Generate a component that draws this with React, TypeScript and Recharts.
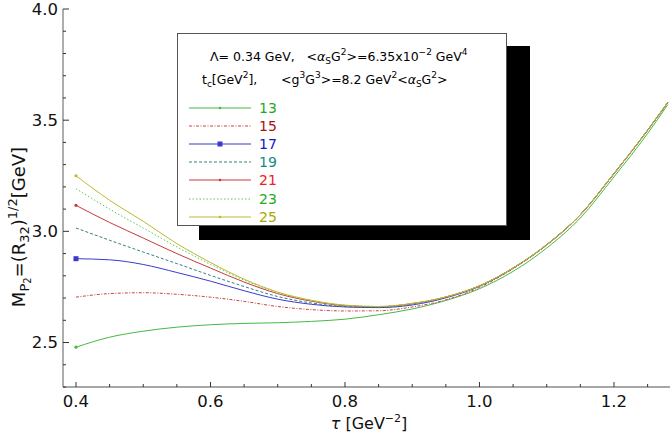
import React from 'react';
import { LineChart, Line, XAxis, YAxis, Legend } from 'recharts';

// tau [GeV^-2]
const tau = [0.4, 0.45, 0.5, 0.55, 0.6, 0.65, 0.7, 0.75, 0.8, 0.85, 0.9, 0.95, 1.0, 1.05, 1.1, 1.15, 1.2, 1.25, 1.28];
// mass curves for each t_c
const tc13 = [2.479, 2.524, 2.551, 2.569, 2.580, 2.586, 2.589, 2.595, 2.605, 2.625, 2.651, 2.689, 2.742, 2.820, 2.925, 3.060, 3.245, 3.440, 3.570];
const tc15 = [2.704, 2.720, 2.724, 2.717, 2.704, 2.685, 2.662, 2.648, 2.642, 2.643, 2.660, 2.692, 2.748, 2.832, 2.938, 3.073, 3.258, 3.453, 3.578];
const tc17 = [2.877, 2.872, 2.851, 2.815, 2.776, 2.733, 2.695, 2.672, 2.660, 2.657, 2.669, 2.701, 2.753, 2.834, 2.940, 3.075, 3.260, 3.455, 3.580];
const tc19 = [3.015, 2.960, 2.907, 2.855, 2.802, 2.752, 2.707, 2.678, 2.662, 2.659, 2.673, 2.704, 2.755, 2.835, 2.940, 3.075, 3.260, 3.455, 3.580];
const tc21 = [3.117, 3.040, 2.970, 2.900, 2.835, 2.772, 2.720, 2.686, 2.666, 2.661, 2.675, 2.705, 2.755, 2.835, 2.940, 3.075, 3.260, 3.455, 3.580];
const tc23 = [3.192, 3.100, 3.015, 2.930, 2.852, 2.781, 2.725, 2.689, 2.668, 2.662, 2.676, 2.705, 2.755, 2.835, 2.940, 3.075, 3.260, 3.455, 3.580];
const tc25 = [3.250, 3.140, 3.045, 2.945, 2.860, 2.785, 2.727, 2.690, 2.668, 2.662, 2.676, 2.705, 2.755, 2.835, 2.940, 3.075, 3.260, 3.455, 3.580];

const seriesLabels = ['13', '15', '17', '19', '21', '23', '25'];
const seriesValues = [tc13, tc15, tc17, tc19, tc21, tc23, tc25];

const xTicks = [0.4, 0.45, 0.5, 0.55, 0.6, 0.65, 0.7, 0.75, 0.8, 0.85, 0.9, 0.95, 1.0, 1.05, 1.1, 1.15, 1.2, 1.25];
const xMajor = [0.4, 0.6, 0.8, 1.0, 1.2];
const yTicks = [2.3, 2.4, 2.5, 2.6, 2.7, 2.8, 2.9, 3.0, 3.1, 3.2, 3.3, 3.4, 3.5, 3.6, 3.7, 3.8, 3.9, 4.0];
const yMajor = [2.5, 3.0, 3.5, 4.0];

const STYLES = [
  { stroke: '#46b946', dash: undefined as string | undefined, label: '#22aa22', marker: 'dot' },
  { stroke: '#c84444', dash: '3 1.5 1 1.5', label: '#aa1111', marker: '' },
  { stroke: '#3a3acc', dash: undefined, label: '#1414cc', marker: 'square' },
  { stroke: '#358080', dash: '3 2', label: '#138a8a', marker: '' },
  { stroke: '#c83a3a', dash: undefined, label: '#ee2222', marker: 'dot' },
  { stroke: '#55cc55', dash: '1.5 2', label: '#22aa22', marker: '' },
  { stroke: '#bcbc30', dash: undefined, label: '#a8a800', marker: 'dot' },
];

const keys = seriesLabels.map((l) => 't' + l);
const data = tau.map((t, i) => {
  const row: Record<string, number> = { tau: t };
  keys.forEach((k, j) => {
    row[k] = seriesValues[j][i];
  });
  return row;
});

const FONT = 'DejaVu Sans';
const AXIS = '#8a8a8a';

const isIn = (v: number, arr: number[]) => arr.some((a) => Math.abs(a - v) < 1e-6);

const XTickBottom = (props: any) => {
  const { x, y, payload } = props;
  const major = isIn(payload.value, xMajor);
  return (
    <g>
      <line x1={x} x2={x} y1={y} y2={y - (major ? 5 : 3)} stroke="#333" strokeWidth={1} />
      {major && (
        <text x={x} y={y + 20} textAnchor="middle" fontSize={16.5} fontFamily={FONT} fill="#111">
          {payload.value.toFixed(1)}
        </text>
      )}
    </g>
  );
};

const XTickTop = (props: any) => {
  const { x, y, payload } = props;
  const major = isIn(payload.value, xMajor);
  return <line x1={x} x2={x} y1={y} y2={y + (major ? 5 : 3)} stroke="#333" strokeWidth={1} />;
};

const YTick = (props: any) => {
  const { x, y, payload } = props;
  const major = isIn(payload.value, yMajor);
  return (
    <g>
      <line x1={x} x2={x + (major ? 6 : 3)} y1={y} y2={y} stroke="#333" strokeWidth={1} />
      {major && (
        <text x={x - 5} y={y} dy="0.36em" textAnchor="end" fontSize={16.5} fontFamily={FONT} fill="#111">
          {payload.value.toFixed(1)}
        </text>
      )}
    </g>
  );
};

const XLabel = () => (
  <text x={369} y={429} textAnchor="middle" fontSize={16} fontFamily={FONT} fill="#111">
    <tspan fontStyle="italic">τ</tspan>
    <tspan> [GeV</tspan>
    <tspan dy={-7} fontSize={11}>−2</tspan>
    <tspan dy={7}>]</tspan>
  </text>
);

const YLabel = () => (
  <text
    transform="translate(25,227) rotate(-90)"
    x={0}
    y={0}
    textAnchor="middle"
    fontSize={18}
    fontFamily={FONT}
    fill="#111"
  >
    <tspan>M</tspan>
    <tspan dy={4} fontSize={13}>P</tspan>
    <tspan dy={2} fontSize={10}>2</tspan>
    <tspan dy={-6}>=(R</tspan>
    <tspan dy={4} fontSize={13}>32</tspan>
    <tspan dy={-4}>)</tspan>
    <tspan dy={-8} fontSize={13}>1/2</tspan>
    <tspan dy={8}>[GeV]</tspan>
  </text>
);

const makeDot = (kind: string, color: string) => (props: any) => {
  const { cx, cy, index } = props;
  if (index !== 0 || !kind || cx == null) return <g key={`d${index}`} />;
  if (kind === 'square')
    return <rect key={`d${index}`} x={cx - 2.5} y={cy - 2.5} width={5} height={5} fill={color} />;
  return <circle key={`d${index}`} cx={cx} cy={cy} r={1.6} fill={color} />;
};

const Sup = ({ children }: { children: React.ReactNode }) => (
  <span style={{ fontSize: 9, position: 'relative', top: -6 }}>{children}</span>
);
const Sub = ({ children }: { children: React.ReactNode }) => (
  <span style={{ fontSize: 9, position: 'relative', top: 3 }}>{children}</span>
);

const LegendBox = () => (
  <div style={{ position: 'relative', width: 353, height: 207, fontFamily: FONT, color: '#000' }}>
    <div style={{ position: 'absolute', left: 22, top: 13, width: 331, height: 194, background: '#000' }} />
    <div
      style={{
        position: 'absolute',
        left: 0,
        top: 0,
        width: 328,
        height: 191,
        background: '#fff',
        border: '1.5px solid #555',
      }}
    >
      <div style={{ position: 'absolute', left: 32, top: 15, fontSize: 12.5, whiteSpace: 'pre', lineHeight: '16px' }}>
        Λ= 0.34 GeV,   &lt;<i>α</i>
        <Sub>S</Sub>G<Sup>2</Sup>&gt;=6.35x10<Sup>−2</Sup> GeV<Sup>4</Sup>
      </div>
      <div style={{ position: 'absolute', left: 24, top: 38, fontSize: 12.5, whiteSpace: 'pre', lineHeight: '16px' }}>
        t<Sub>c</Sub>[GeV<Sup>2</Sup>],      &lt;g<Sup>3</Sup>G<Sup>3</Sup>&gt;=8.2 GeV<Sup>2</Sup>&lt;<i>α</i>
        <Sub>S</Sub>G<Sup>2</Sup>&gt;
      </div>
      {seriesLabels.map((lab, i) => {
        const st = STYLES[i];
        return (
          <div key={lab} style={{ position: 'absolute', left: 0, top: 66 + i * 18.1, height: 16, width: 200 }}>
            <svg width={64} height={16} style={{ position: 'absolute', left: 10, top: 0 }}>
              <line x1={1} x2={63} y1={8} y2={8} stroke={st.stroke} strokeWidth={1} strokeDasharray={st.dash} />
              {st.marker === 'square' && <rect x={29.5} y={5.5} width={5} height={5} fill={st.stroke} />}
              {st.marker === 'dot' && <circle cx={32} cy={8} r={1.3} fill={st.stroke} />}
            </svg>
            <span
              style={{ position: 'absolute', left: 81, top: 0, fontSize: 14, lineHeight: '16px', color: st.label }}
            >
              {lab}
            </span>
          </div>
        );
      })}
    </div>
  </div>
);

export default function App() {
  return (
    <div style={{ position: 'absolute', left: 0, top: 0, width: 670, height: 442, background: '#fff' }}>
      <LineChart width={670} height={442} data={data} margin={{ top: 9, right: 0, bottom: 0, left: 0 }}>
        <XAxis
          dataKey="tau"
          type="number"
          domain={[0.3807, 1.2833]}
          allowDataOverflow
          ticks={xTicks}
          interval={0}
          tick={<XTickBottom />}
          tickLine={false}
          tickSize={0}
          tickMargin={0}
          height={55}
          axisLine={{ stroke: AXIS, strokeWidth: 1.4 }}
          label={<XLabel />}
        />
        <XAxis
          xAxisId="top"
          dataKey="tau"
          orientation="top"
          type="number"
          domain={[0.3807, 1.2833]}
          allowDataOverflow
          ticks={xTicks}
          interval={0}
          tick={<XTickTop />}
          tickLine={false}
          tickSize={0}
          tickMargin={0}
          height={0}
          axisLine={{ stroke: AXIS, strokeWidth: 1.4 }}
        />
        <YAxis
          type="number"
          domain={[2.3, 4.0]}
          allowDataOverflow
          ticks={yTicks}
          interval={0}
          tick={<YTick />}
          tickLine={false}
          tickSize={0}
          tickMargin={0}
          width={63}
          axisLine={{ stroke: AXIS, strokeWidth: 1.4 }}
          label={<YLabel />}
        />
        {keys.map((k, i) => (
          <Line
            key={k}
            dataKey={k}
            name={seriesLabels[i]}
            type="monotone"
            stroke={STYLES[i].stroke}
            strokeWidth={1}
            strokeDasharray={STYLES[i].dash}
            dot={makeDot(STYLES[i].marker, STYLES[i].stroke)}
            activeDot={false}
            isAnimationActive={false}
          />
        ))}
        <Legend
          layout="horizontal"
          verticalAlign="middle"
          align="center"
          content={<LegendBox />}
          wrapperStyle={{ position: 'absolute', left: 177, top: 33, width: 353, height: 207 }}
        />
      </LineChart>
    </div>
  );
}
